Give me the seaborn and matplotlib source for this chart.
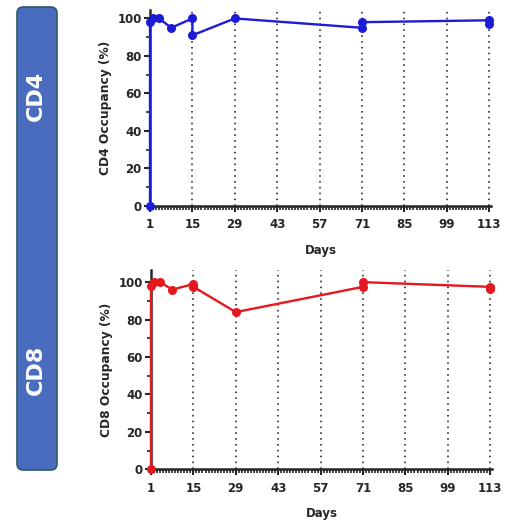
import numpy as np
import pandas as pd
import matplotlib
matplotlib.use("Agg")
import matplotlib.pyplot as plt
from matplotlib.patches import FancyBboxPatch
from matplotlib.ticker import MultipleLocator
import seaborn as sns

# days / occupancy, points joined in the order given
cd4_days = [1, 1, 2, 4, 8, 15, 15, 29, 71, 71, 113, 113]
cd4_occ = [0, 98, 100, 100, 95, 100, 91, 100, 95, 98, 99, 97]
cd8_days = [1, 1, 2, 4, 8, 15, 15, 29, 71, 71, 113, 113]
cd8_occ = [0, 98, 100, 100, 96, 99, 97.5, 84, 97.5, 100, 97.5, 96.5]
major_days = [1, 15, 29, 43, 57, 71, 85, 99, 113]
y_ticks = [0, 20, 40, 60, 80, 100]

sns.set_style("ticks")
plt.rcParams['font.family'] = ['DejaVu Sans']

W, H = 517, 525
fig = plt.figure(figsize=(W / 100, H / 100), dpi=100)


def px_axes(left, top, right, bottom):
    return fig.add_axes([left / W, 1 - bottom / H, (right - left) / W, (bottom - top) / H])


def panel(ax, days, occ, color, ylabel, ytop):
    df = pd.DataFrame({"Days": days, "occ": occ})
    sns.lineplot(data=df, x="Days", y="occ", estimator=None, sort=False, color=color,
                 lw=1.7, marker="o", markersize=6.5, markeredgewidth=0, ax=ax, zorder=3,
                 clip_on=False)
    for d in major_days[1:]:
        ax.axvline(d, color="#333333", ls=(0, (1, 2.5)), lw=1.2, zorder=1)
    ax.set_xlim(1, 113.6)
    ax.set_ylim(0, ytop)
    ax.set_xticks(major_days)
    ax.set_yticks(y_ticks)
    ax.xaxis.set_minor_locator(MultipleLocator(1))
    ax.yaxis.set_minor_locator(MultipleLocator(10))
    for s in ["top", "right"]:
        ax.spines[s].set_visible(False)
    for s in ["left", "bottom"]:
        ax.spines[s].set_linewidth(1.8)
    ax.tick_params(which="major", length=4, width=1.5, labelsize=8.5)
    ax.tick_params(which="minor", length=3, width=1.2)
    ax.tick_params(axis="x", which="major", pad=5)
    ax.tick_params(axis="y", which="major", pad=2)
    for lab in ax.get_xticklabels() + ax.get_yticklabels():
        lab.set_fontweight("bold")
    ax.set_xlabel("Days", fontsize=8.5, fontweight="bold", labelpad=9)
    ax.set_ylabel(ylabel, fontsize=8.8, fontweight="bold", labelpad=4)


ax1 = px_axes(150, 10, 491, 205.7)
panel(ax1, cd4_days, cd4_occ, "#1c1cd6", "CD4 Occupancy (%)", 104.5)
ax2 = px_axes(151, 270, 492, 469.3)
panel(ax2, cd8_days, cd8_occ, "#e5171f", "CD8 Occupancy (%)", 106.5)

# side label bar
box = FancyBboxPatch((17 / W, 1 - 470 / H), 40 / W, 463 / H,
                     boxstyle="round,pad=0,rounding_size=0.012",
                     transform=fig.transFigure, facecolor="#4a6cbf",
                     edgecolor="#2c5a66", lw=1.2)
fig.patches.append(box)
fig.text(36 / W, 1 - 96 / H, "CD4", rotation=90, color="white", fontsize=16,
         fontweight="bold", ha="center", va="center")
fig.text(36 / W, 1 - 370 / H, "CD8", rotation=90, color="white", fontsize=16,
         fontweight="bold", ha="center", va="center")

fig.savefig("out.png", dpi=100, facecolor="white")
